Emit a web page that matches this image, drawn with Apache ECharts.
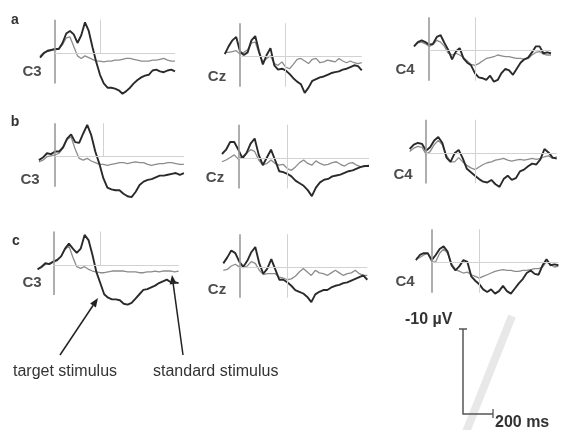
<!DOCTYPE html>
<html><head><meta charset="utf-8">
<script src="https://cdn.jsdelivr.net/npm/echarts@6/dist/echarts.min.js"></script>
<style>html,body{margin:0;padding:0;background:#fff}#c{width:562px;height:430px}</style>
</head><body><div id="c"></div>
<script>
// time in ms relative to stimulus onset
const times = [-100,-75,-50,-25,0,25,50,75,100,125,150,175,200,225,250,275,300,325,350,375,400,425,450,475,500,525,550,575,600,625,650,675,700,725,750,775,800];
const rowLabels = ['a','b','c'];
const channels = ['C3','Cz','C4'];
const markTimes = [0, 300];

// amplitudes in µV (negative plotted upward)
const aC3Target = [0.5,0.0,-0.3,-0.4,-0.5,-0.5,-1.2,-2.3,-2.6,-2.2,-1.2,-2.1,-3.6,-2.6,-0.7,1.0,2.5,3.5,4.0,4.0,4.1,4.3,4.7,4.4,4.0,3.5,3.1,2.8,2.6,2.5,2.0,1.9,2.1,2.2,2.0,1.9,2.1];
const aC3Standard = [0.3,-0.1,-0.2,-0.3,-0.4,-0.5,-1.0,-1.8,-1.9,-0.8,0.3,0.6,0.3,0.5,0.7,0.9,0.9,1.0,0.9,0.9,0.8,0.8,0.7,0.6,0.6,0.7,0.8,0.9,0.9,0.9,0.8,0.8,0.7,0.6,0.8,0.9,0.9];
const aCzTarget = [-0.3,-1.2,-1.9,-2.3,-0.6,-0.2,-0.5,-1.9,-2.4,-0.6,0.9,-0.2,-1.0,1.0,1.5,1.4,1.6,2.0,2.5,2.9,3.2,4.2,3.6,2.8,2.6,2.4,2.3,2.1,1.9,1.8,1.7,1.5,1.4,1.2,1.0,1.1,1.6];
const aCzStandard = [-0.5,-0.5,-0.6,-0.7,-0.3,-0.5,-0.8,-1.6,-1.7,-0.4,0.6,0.2,-0.1,0.8,1.0,0.6,1.2,1.4,0.9,0.3,0.2,0.5,0.8,0.3,0.2,0.7,0.6,0.4,0.5,0.6,0.2,0.5,0.7,0.5,0.7,0.8,0.7];
const aC4Target = [-0.5,-1.0,-1.2,-1.0,-0.7,-0.8,-1.6,-1.8,-0.9,-0.1,1.0,0.1,-0.3,0.9,1.4,1.7,2.6,3.1,3.2,3.4,2.9,3.6,3.4,2.6,2.1,2.3,2.8,2.1,1.4,1.0,0.8,0.2,-0.5,-0.5,0.3,0.2,0.3];
const aC4Standard = [-0.5,-0.9,-1.0,-0.8,-0.5,-0.7,-1.2,-1.0,-0.5,0.3,0.5,0.3,0.5,0.8,1.2,1.6,1.7,1.5,1.2,0.9,0.8,0.7,0.5,0.6,0.7,0.7,0.8,0.9,0.9,1.0,0.9,0.5,0.2,0.1,0.4,0.5,0.5];

const bC3Target = [0.4,0.1,-0.4,-0.3,-0.6,-0.6,-1.1,-2.1,-2.6,-1.7,-1.6,-2.7,-3.7,-2.5,-0.6,0.8,2.5,3.6,3.8,3.9,3.9,4.3,4.6,4.7,4.1,3.3,2.9,2.7,2.6,2.4,2.2,2.2,2.1,2.0,1.9,2.1,1.9];
const bC3Standard = [0.6,0.4,0.0,-0.1,-0.2,-0.4,-1.0,-2.0,-2.3,-0.9,0.2,0.4,0.2,0.5,0.7,0.9,0.9,1.0,0.9,0.8,0.7,0.7,0.8,0.7,0.6,0.7,0.7,0.9,1.0,0.9,0.8,0.8,0.7,0.7,0.8,0.9,0.9];
const bCzTarget = [-0.5,-1.0,-1.9,-1.9,-1.0,0.0,-0.6,-1.7,-2.3,-0.4,0.8,-0.1,-1.0,0.2,1.5,1.6,1.8,2.1,2.6,2.9,3.2,3.7,4.4,3.4,2.8,2.5,2.4,2.1,2.0,1.9,1.7,1.5,1.4,1.2,1.0,0.9,0.9];
const bCzStandard = [0.4,0.2,-0.1,-0.4,0.1,-0.2,-0.6,-1.0,-0.8,0.2,0.8,0.6,0.2,0.6,0.8,0.7,1.2,1.4,1.0,0.5,0.2,0.6,0.8,0.3,0.6,0.8,0.7,0.5,0.4,0.7,0.9,0.6,0.5,0.8,1.0,0.9,0.8];
const bC4Target = [-0.5,-1.0,-1.2,-1.1,-0.3,-0.7,-1.5,-1.9,-1.2,0.5,1.0,0.0,-0.4,0.6,1.8,2.2,2.6,3.0,3.3,3.4,3.1,3.6,3.9,3.0,2.6,3.1,2.9,2.1,1.9,1.5,1.2,1.3,0.7,-0.5,-0.1,0.5,0.6];
const bC4Standard = [-0.2,-0.6,-0.8,-0.7,0.1,-0.2,-1.0,-1.5,-1.0,0.2,1.0,1.0,0.5,1.0,1.4,1.7,1.9,1.6,1.3,1.1,1.0,0.8,0.7,0.6,0.8,0.9,0.8,0.7,0.8,0.7,0.6,0.7,0.6,0.4,0.3,0.6,0.4];

const cC3Target = [0.5,0.2,-0.2,-0.1,-0.4,-0.6,-1.0,-1.9,-2.5,-1.9,-1.4,-1.9,-3.5,-2.9,-1.2,0.8,2.1,3.4,3.8,4.0,4.0,4.1,4.5,4.6,4.4,3.9,3.4,2.9,2.8,2.6,2.4,2.1,1.9,1.7,2.0,2.0,2.1];
const cC3Standard = [0.5,0.3,-0.1,-0.2,-0.3,-0.5,-1.0,-1.8,-2.2,-0.9,0.2,0.4,0.2,0.5,0.7,0.8,0.9,0.9,0.8,0.7,0.7,0.7,0.7,0.8,0.8,0.8,0.9,0.9,0.8,0.8,0.7,0.8,0.7,0.7,0.7,0.8,0.7];
const cCzTarget = [-0.5,-1.2,-2.0,-1.7,-0.7,-0.1,-0.8,-1.8,-2.4,-0.5,0.7,0.1,-1.0,0.2,1.4,1.4,1.7,2.1,2.6,2.8,3.0,3.4,4.0,3.1,2.8,2.6,2.6,2.3,2.1,2.0,1.8,1.7,1.5,1.3,1.1,0.9,1.4];
const cCzStandard = [0.3,0.2,-0.2,-0.4,-0.1,0.0,-0.2,-0.7,-0.5,0.3,0.8,0.7,0.7,0.7,1.1,1.2,1.4,1.3,1.0,0.5,0.1,0.5,0.9,0.3,0.6,0.7,0.9,0.6,0.3,0.6,0.9,0.7,0.6,0.3,0.7,0.9,0.9];
const cC4Target = [-0.3,-0.9,-1.1,-1.1,-0.3,-0.9,-1.6,-1.9,-1.3,0.3,0.9,0.4,-0.3,-0.1,1.6,2.1,2.5,3.1,3.4,3.1,3.6,3.3,2.7,3.3,3.6,3.0,2.4,1.9,1.2,0.9,1.3,1.4,0.3,-0.4,0.3,0.2,0.3];
const cC4Standard = [-0.5,-0.6,-0.9,-1.1,-0.1,-0.1,-1.1,-1.6,-1.1,0.1,0.8,1.0,1.2,1.1,1.4,1.6,1.8,1.6,1.4,1.2,1.0,0.9,0.8,0.9,0.9,1.0,1.0,0.9,0.9,0.8,0.7,0.7,0.5,-0.1,0.2,0.5,0.4];

const targets = [[aC3Target,aCzTarget,aC4Target],[bC3Target,bCzTarget,bC4Target],[cC3Target,cCzTarget,cC4Target]];
const standards = [[aC3Standard,aCzStandard,aC4Standard],[bC3Standard,bCzStandard,bC4Standard],[cC3Standard,cCzStandard,cC4Standard]];

// layout (pixels): left, top, width per panel
const layout = [
  [[40,14.6,135],[224.8,18.0,137],[414,12.0,137]],
  [[38.9,118.0,145],[222,119.6,147],[409.7,114.6,147]],
  [[37.6,226.3,141],[223.3,229.0,144],[415.9,224.0,142.5]]
];
const chLabelPos = [
  [[32,72],[217,77],[405,70]],
  [[30,180],[215,178],[403,175]],
  [[32,283],[217,290],[405,282]]
];
const rowLabelPos = [[15,20],[15,122],[16,241]];
const Y_MIN = -4.5, Y_MAX = 5.5, GRID_H = 86;

const grid = [], xAxis = [], yAxis = [], series = [], graphic = [];
let gi = 0;
for (let r = 0; r < 3; r++) {
  for (let c = 0; c < 3; c++) {
    const [l, t, w] = layout[r][c];
    grid.push({left: l, top: t, width: w, height: GRID_H});
    xAxis.push({type: 'value', gridIndex: gi, min: -100, max: 800, show: false});
    yAxis.push({type: 'value', gridIndex: gi, min: Y_MIN, max: Y_MAX, inverse: true, show: false});
    const isC3 = channels[c] === 'C3';
    series.push({
      type: 'line', xAxisIndex: gi, yAxisIndex: gi, z: 2,
      showSymbol: false, silent: true,
      data: times.map((tm, i) => [tm, standards[r][c][i]]),
      lineStyle: {color: '#8c8c8c', width: 1.3},
      markLine: {
        symbol: 'none', silent: true, label: {show: false}, animation: false,
        data: [
          [{coord: [markTimes[0], -3.9], lineStyle: {color: '#9a9a9a', width: 1.6, type: 'solid'}}, {coord: [markTimes[0], 3.5]}],
          [{coord: [markTimes[1], -3.9], lineStyle: {color: '#d2d2d2', width: 1, type: 'solid'}}, {coord: [markTimes[1], isC3 ? 0 : 3.5]}],
          [{coord: [0, 0], lineStyle: {color: '#d2d2d2', width: 1, type: 'solid'}}, {coord: [800, 0]}]
        ]
      }
    });
    series.push({
      type: 'line', xAxisIndex: gi, yAxisIndex: gi, z: 3,
      showSymbol: false, silent: true,
      data: times.map((tm, i) => [tm, targets[r][c][i]]),
      lineStyle: {color: '#2a2a2a', width: 1.9}
    });
    graphic.push({type: 'text', x: chLabelPos[r][c][0], y: chLabelPos[r][c][1],
      style: {text: channels[c], font: 'bold 15px "Liberation Sans", Arial, sans-serif', fill: '#4d4d4d', textAlign: 'center', textVerticalAlign: 'middle'}});
    gi++;
  }
  graphic.push({type: 'text', x: rowLabelPos[r][0], y: rowLabelPos[r][1],
    style: {text: rowLabels[r], font: 'bold 14px "Liberation Sans", Arial, sans-serif', fill: '#333', textAlign: 'center', textVerticalAlign: 'middle'}});
}

// watermark stripe
graphic.push({type: 'line', shape: {x1: 512, y1: 316, x2: 466, y2: 432}, style: {stroke: '#e8e8e8', lineWidth: 8}, z: 0});
// arrows
graphic.push({type: 'line', shape: {x1: 60, y1: 355, x2: 93, y2: 305.5}, style: {stroke: '#222', lineWidth: 1.5}});
graphic.push({type: 'polygon', shape: {points: [[98,298],[95.9,307.4],[90.1,303.6]]}, style: {fill: '#222'}});
graphic.push({type: 'line', shape: {x1: 183, y1: 355, x2: 173.2, y2: 283.9}, style: {stroke: '#222', lineWidth: 1.5}});
graphic.push({type: 'polygon', shape: {points: [[172,275],[176.7,283.4],[169.7,284.4]]}, style: {fill: '#222'}});
graphic.push({type: 'text', x: 13, y: 372, style: {text: 'target stimulus', font: '16px "Liberation Sans", Arial, sans-serif', fill: '#333', textAlign: 'left', textVerticalAlign: 'middle'}});
graphic.push({type: 'text', x: 153, y: 372, style: {text: 'standard stimulus', font: '16px "Liberation Sans", Arial, sans-serif', fill: '#333', textAlign: 'left', textVerticalAlign: 'middle'}});
// scale bar
graphic.push({type: 'polyline', shape: {points: [[463,329],[463,414],[493,414]]}, style: {stroke: '#555', lineWidth: 1.5, fill: null}});
graphic.push({type: 'line', shape: {x1: 459, y1: 329, x2: 467, y2: 329}, style: {stroke: '#555', lineWidth: 1.5}});
graphic.push({type: 'line', shape: {x1: 493, y1: 409, x2: 493, y2: 418}, style: {stroke: '#555', lineWidth: 1.3}});
graphic.push({type: 'text', x: 405, y: 320, style: {text: '-10 µV', font: 'bold 16px "Liberation Sans", Arial, sans-serif', fill: '#333', textAlign: 'left', textVerticalAlign: 'middle'}});
graphic.push({type: 'text', x: 495, y: 423, style: {text: '200 ms', font: 'bold 16px "Liberation Sans", Arial, sans-serif', fill: '#333', textAlign: 'left', textVerticalAlign: 'middle'}});

const chart = echarts.init(document.getElementById('c'), null, {renderer: 'canvas'});
chart.setOption({animation: false, backgroundColor: '#fff', grid, xAxis, yAxis, series, graphic});
</script>
</body></html>
